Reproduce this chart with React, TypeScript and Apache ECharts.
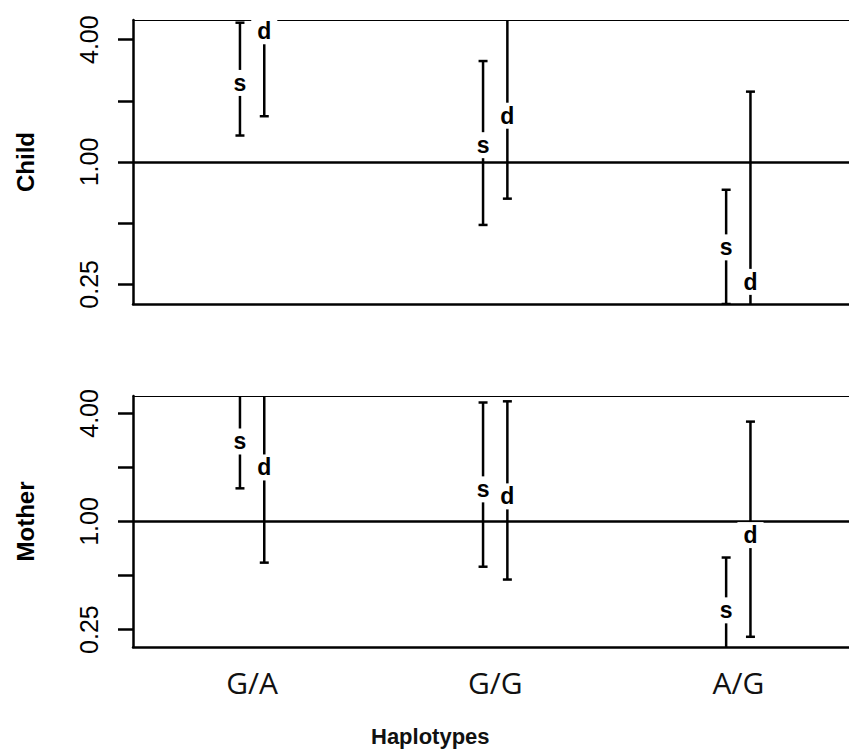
import React, { useEffect, useRef } from "react";
import * as echarts from "echarts";

// Haplotype categories (x) and panel names
const haplotypes = ["G/A", "G/G", "A/G"];
const panels = ["Child", "Mother"];

// Y tick values (log2 axis)
const yTicks = [0.25, 0.5, 1, 2, 4];
const yTickLabels = [0.25, 1, 4];
const yRange = [0.2, 5];

// Child: estimate "s"
const childSEst = [2.45, 1.21, 0.38];
const childSLo = [1.35, 0.49, 0.2];
const childSHi = [4.85, 3.14, 0.73];
// Child: estimate "d"
const childDEst = [4.4, 1.69, 0.257];
const childDLo = [1.68, 0.66, 0.12];
const childDHi = [8.0, 7.0, 2.22];
// Mother: estimate "s"
const motherSEst = [2.79, 1.51, 0.32];
const motherSLo = [1.53, 0.56, 0.12];
const motherSHi = [7.5, 4.6, 0.63];
// Mother: estimate "d"
const motherDEst = [2.0, 1.38, 0.84];
const motherDLo = [0.59, 0.475, 0.228];
const motherDHi = [8.5, 4.67, 3.6];

const dOffset = 0.1;

function buildData(est: number[], lo: number[], hi: number[], off: number) {
  return est.map((e, i) => [i + 1 + off, lo[i], e, hi[i]]);
}

function errSeries(letter: string, data: number[][], gridIndex: number) {
  return {
    type: "custom",
    name: letter,
    xAxisIndex: gridIndex * 2,
    yAxisIndex: gridIndex,
    clip: true,
    z: 5,
    data,
    encode: { x: 0, y: [1, 2, 3] },
    renderItem: (params: any, api: any) => {
      const x = api.value(0);
      const lo = api.value(1);
      const est = api.value(2);
      const hi = api.value(3);
      const pLo = api.coord([x, lo]);
      const pHi = api.coord([x, hi]);
      const pE = api.coord([x, est]);
      const cap = 4.5;
      const st = { stroke: "#000", lineWidth: 2.5 };
      return {
        type: "group",
        children: [
          { type: "line", shape: { x1: pLo[0], y1: pLo[1], x2: pHi[0], y2: pHi[1] }, style: st },
          { type: "line", shape: { x1: pLo[0] - cap, y1: pLo[1], x2: pLo[0] + cap, y2: pLo[1] }, style: st },
          { type: "line", shape: { x1: pHi[0] - cap, y1: pHi[1], x2: pHi[0] + cap, y2: pHi[1] }, style: st },
          {
            type: "text",
            x: pE[0],
            y: pE[1],
            z2: 10,
            style: {
              text: letter,
              fill: "#000",
              font: "bold 23px 'Liberation Sans', Arial, sans-serif",
              align: "center",
              verticalAlign: "middle",
              backgroundColor: "#fff",
              padding: [2, 6, 1, 6],
            },
          },
        ],
      };
    },
  };
}

export default function App() {
  const ref = useRef<HTMLDivElement>(null);
  useEffect(() => {
    if (!ref.current) return;
    const chart = echarts.init(ref.current, undefined, { renderer: "svg" });
    const grids = [
      { left: 133, width: 739, top: 20, height: 284, outerBoundsMode: "none", containLabel: false },
      { left: 133, width: 739, top: 396, height: 251, outerBoundsMode: "none", containLabel: false },
    ];
    const xAxes: any[] = [];
    grids.forEach((g, gi) => {
      xAxes.push({
        type: "value",
        gridIndex: gi,
        min: 0.56,
        max: 3.6,
        position: "bottom",
        splitLine: { show: false },
        axisTick: { show: false },
        axisLine: { show: true, onZero: false, lineStyle: { color: "#000", width: 2.5 } },
        axisLabel:
          gi === 1
            ? {
                show: true,
                customValues: haplotypes.map((_, i) => i + 1 + dOffset / 2),
                formatter: (v: number) => haplotypes[Math.round(v - 1 - dOffset / 2)] ?? "",
                color: "#111",
                fontSize: 30,
                fontFamily: "'Open Sans', sans-serif",
                margin: 20,
              }
            : { show: false },
      });
      xAxes.push({
        type: "value",
        gridIndex: gi,
        min: 0.56,
        max: 3.6,
        position: "top",
        splitLine: { show: false },
        axisTick: { show: false },
        axisLabel: { show: false },
        axisLine: { show: true, onZero: false, lineStyle: { color: "#000", width: 1 } },
      });
    });
    const yAxes = grids.map((g, gi) => ({
      type: "log",
      logBase: 2,
      gridIndex: gi,
      min: yRange[0],
      max: yRange[1],
      name: panels[gi],
      nameLocation: "middle",
      nameRotate: 90,
      nameGap: 96,
      nameTextStyle: {
        color: "#000",
        fontSize: 24,
        fontWeight: "bold",
        fontFamily: "'Liberation Sans', Arial, sans-serif",
      },
      splitLine: { show: false },
      axisLine: { show: true, onZero: false, lineStyle: { color: "#000", width: 2.5 } },
      axisTick: {
        show: true,
        length: 15,
        customValues: yTicks,
        lineStyle: { color: "#000", width: 2.5 },
      },
      axisLabel: {
        show: true,
        customValues: yTickLabels,
        rotate: 90,
        margin: 32,
        formatter: (v: number) => Number(v).toFixed(2),
        color: "#000",
        fontSize: 25,
        fontFamily: "'Liberation Sans', Arial, sans-serif",
      },
    }));
    const refLines = grids.map((g, gi) => ({
      type: "line",
      xAxisIndex: gi * 2,
      yAxisIndex: gi,
      data: [],
      z: 1,
      markLine: {
        silent: true,
        symbol: "none",
        label: { show: false },
        lineStyle: { color: "#000", width: 2.5, type: "solid" },
        data: [{ yAxis: 1 }],
      },
    }));
    chart.setOption({
      animation: false,
      backgroundColor: "#fff",
      grid: grids,
      xAxis: xAxes,
      yAxis: yAxes,
      series: [
        ...refLines,
        errSeries("s", buildData(childSEst, childSLo, childSHi, 0), 0),
        errSeries("d", buildData(childDEst, childDLo, childDHi, dOffset), 0),
        errSeries("s", buildData(motherSEst, motherSLo, motherSHi, 0), 1),
        errSeries("d", buildData(motherDEst, motherDLo, motherDHi, dOffset), 1),
      ],
      graphic: [
        {
          type: "text",
          left: 371,
          top: 725,
          style: {
            text: "Haplotypes",
            fill: "#111",
            font: "bold 22px 'Liberation Sans', Arial, sans-serif",
          },
        },
      ],
    });
    return () => chart.dispose();
  }, []);
  return <div ref={ref} style={{ width: 849, height: 751, position: "absolute", left: 0, top: 0 }} />;
}
